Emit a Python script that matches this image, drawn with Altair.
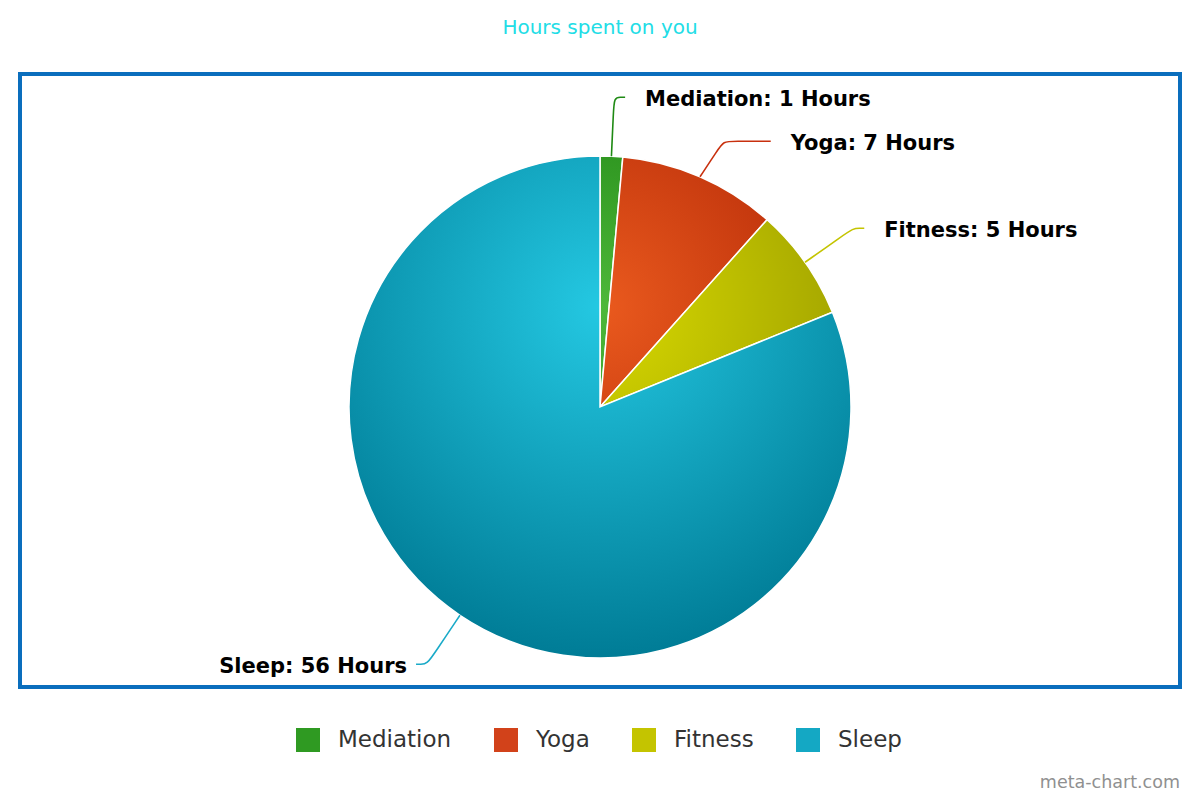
import math
import altair as alt
import pandas as pd

# ---------------- data ----------------
names = ["Mediation", "Yoga", "Fitness", "Sleep"]
hours = [1, 7, 5, 56]
title_text = "Hours spent on you"
credit_text = "meta-chart.com"

light_colors = ["#4db83a", "#ea5a1e", "#d9da00", "#24c8e2"]
dark_colors = ["#0b6e02", "#a41a00", "#8e9000", "#007c96"]
legend_colors = ["#2f9a22", "#d2421a", "#c4c400", "#14a8c4"]
line_colors = ["#1f8a14", "#c8300e", "#c4c400", "#1aaac8"]

# ---------------- layout (view coordinates) ----------------
W, H = 1160, 613
CX, CY = 580, 333
R = 251
LABEL_R = 310
GAP = 44

total = sum(hours)
starts, ends = [], []
acc = 0
for h in hours:
    starts.append(acc / total * 2 * math.pi)
    acc += h
    ends.append(acc / total * 2 * math.pi)
mids = [(a + b) / 2 for a, b in zip(starts, ends)]


def pt(a, r):
    return (r * math.sin(a), -r * math.cos(a))


def bbox(t0, t1):
    pts = [(0.0, 0.0), pt(t0, R), pt(t1, R)]
    for k in range(5):
        a = k * math.pi / 2
        if t0 <= a <= t1:
            pts.append(pt(a, R))
    xs = [p[0] for p in pts]
    ys = [p[1] for p in pts]
    return min(xs), max(xs), min(ys), max(ys)


# gradient centre relative to pie centre (cx .5, cy .3, r .7 of the pie box)
G_DX, G_DY, G_R = 0.0, -0.4 * R, 0.7 * 2 * R

arc_df = pd.DataFrame({"name": names, "hours": hours, "t0": starts, "t1": ends})

arc_layers = []
for i, n in enumerate(names):
    x0, x1, y0, y1 = bbox(starts[i], ends[i])
    S = max(x1 - x0, y1 - y0)
    ox = (x0 + x1) / 2 - S / 2
    oy = (y0 + y1) / 2 - S / 2
    gx = (G_DX - ox) / S
    gy = (G_DY - oy) / S
    gr = G_R / S
    grad = alt.RadialGradient(
        gradient="radial",
        x1=gx, y1=gy, r1=0,
        x2=gx, y2=gy, r2=gr,
        stops=[
            alt.GradientStop(color=light_colors[i], offset=0),
            alt.GradientStop(color=dark_colors[i], offset=1),
        ],
    )
    layer = (
        alt.Chart(arc_df)
        .transform_filter(alt.datum.name == n)
        .mark_arc(fill=grad, stroke="white", strokeWidth=1.5, radius=R)
        .encode(
            theta=alt.Theta("t0:Q", scale=None),
            theta2=alt.Theta2("t1:Q"),
            x=alt.value(CX),
            y=alt.value(CY),
        )
    )
    arc_layers.append(layer)

# ---------------- data labels & connectors ----------------
sides = [1 if math.sin(m) >= 0 else -1 for m in mids]
label_y = [CY - LABEL_R * math.cos(m) for m in mids]
for s in (1, -1):
    idx = sorted([i for i in range(len(names)) if sides[i] == s], key=lambda i: label_y[i])
    for a, b in zip(idx, idx[1:]):
        if label_y[b] < label_y[a] + GAP:
            label_y[b] = label_y[a] + GAP

line_rows = []
text_rows = []
for i, n in enumerate(names):
    s = sides[i]
    m = mids[i]
    ex, ey = CX + R * math.sin(m), CY - R * math.cos(m)
    bx, by = CX + LABEL_R * math.sin(m), label_y[i]
    dy = label_y[i] - CY
    ax = CX + s * (math.sqrt(max(LABEL_R ** 2 - dy ** 2, 0)) + 11)
    ay = label_y[i]
    p1 = (ex + 0.75 * (bx - ex), ey + 0.75 * (by - ey))
    p3 = (bx + s * min(10, abs(ax - bx) * 0.6), by)
    pts = [(ex, ey), p1, (bx, by), p3, (ax, ay)]
    for k, (px, py) in enumerate(pts):
        line_rows.append({"name": n, "seq": k, "px": px, "py": py})
    text_rows.append({
        "name": n,
        "label": f"{n}: {hours[i]} Hours",
        "tx": ax + (20 if s > 0 else -9),
        "ty": ay + 3,
        "side": s,
    })

line_df = pd.DataFrame(line_rows)
text_df = pd.DataFrame(text_rows)

line_layers = []
for i, n in enumerate(names):
    line_layers.append(
        alt.Chart(line_df)
        .transform_filter(alt.datum.name == n)
        .mark_line(interpolate="basis", strokeWidth=1.6, color=line_colors[i])
        .encode(
            x=alt.X("px:Q", scale=None, axis=None),
            y=alt.Y("py:Q", scale=None, axis=None),
            order="seq:Q",
        )
    )

text_common = dict(font="DejaVu Sans", fontSize=21, fontWeight="bold", color="#000000", baseline="middle")
labels_right = (
    alt.Chart(text_df)
    .transform_filter(alt.datum.side > 0)
    .mark_text(align="left", **text_common)
    .encode(x=alt.X("tx:Q", scale=None, axis=None), y=alt.Y("ty:Q", scale=None, axis=None), text="label:N")
)
labels_left = (
    alt.Chart(text_df)
    .transform_filter(alt.datum.side < 0)
    .mark_text(align="right", **text_common)
    .encode(x=alt.X("tx:Q", scale=None, axis=None), y=alt.Y("ty:Q", scale=None, axis=None), text="label:N")
)

# ---------------- legend ----------------
legend_layer = (
    alt.Chart(arc_df)
    .mark_square(filled=True, opacity=1)
    .encode(
        x=alt.value(-600),
        y=alt.value(-600),
        color=alt.Color(
            "name:N",
            scale=alt.Scale(domain=names, range=legend_colors),
            legend=alt.Legend(
                orient="none",
                legendX=276,
                legendY=654,
                direction="horizontal",
                title=None,
                symbolType="square",
                symbolSize=576,
                symbolStrokeWidth=0,
                labelFont="DejaVu Sans",
                labelFontSize=23,
                labelColor="#333333",
                labelOffset=18,
                columnPadding=42,
            ),
        ),
    )
)

# ---------------- title & credit ----------------
title = (
    alt.Chart(pd.DataFrame({"t": [title_text]}))
    .mark_text(font="DejaVu Sans", fontSize=20, color="#22dde6", align="center", baseline="middle")
    .encode(text="t:N", x=alt.value(580), y=alt.value(-46))
)
credit = (
    alt.Chart(pd.DataFrame({"t": [credit_text]}))
    .mark_text(font="DejaVu Sans", fontSize=17.5, color="#909090", align="right", baseline="middle")
    .encode(text="t:N", x=alt.value(1160), y=alt.value(709))
)

chart = (
    alt.layer(*arc_layers, *line_layers, labels_right, labels_left, legend_layer, title, credit)
    .properties(
        width=W,
        height=H,
        autosize=alt.AutoSizeParams(type="none"),
        padding={"left": 12, "top": 66, "right": 12, "bottom": 105},
        background="white",
    )
    .configure_view(stroke="#0a6ebd", strokeWidth=4)
)

chart.save("out.html", embed_options={"renderer": "svg", "actions": False})
